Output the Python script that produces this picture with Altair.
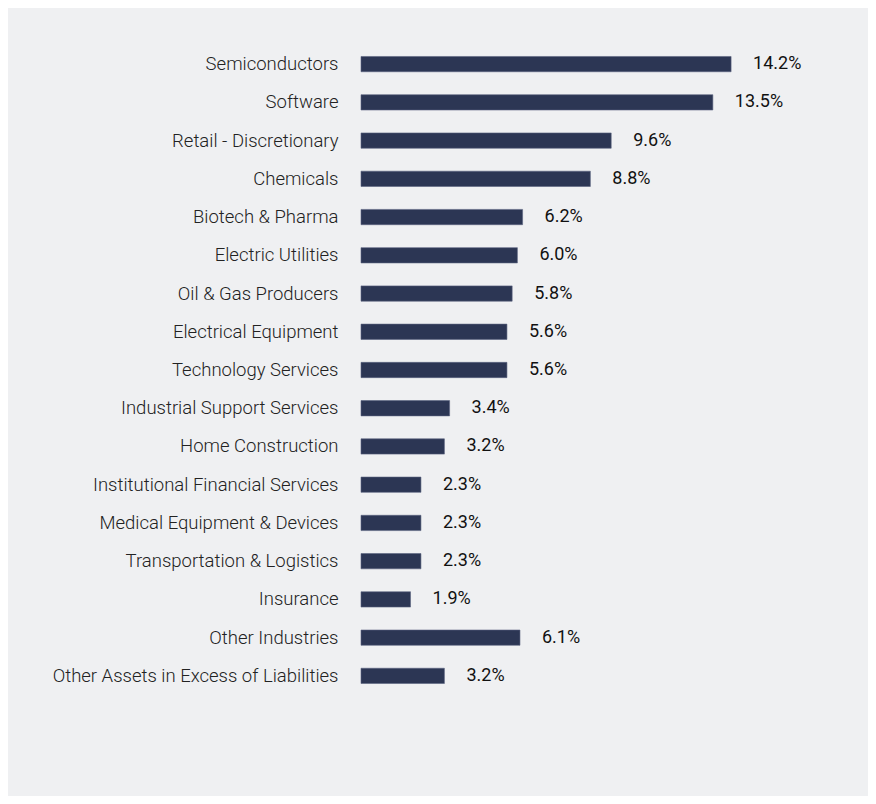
import altair as alt
import pandas as pd

categories = [
    "Semiconductors", "Software", "Retail - Discretionary", "Chemicals",
    "Biotech & Pharma", "Electric Utilities", "Oil & Gas Producers",
    "Electrical Equipment", "Technology Services", "Industrial Support Services",
    "Home Construction", "Institutional Financial Services",
    "Medical Equipment & Devices", "Transportation & Logistics", "Insurance",
    "Other Industries", "Other Assets in Excess of Liabilities",
]
values = [14.2, 13.5, 9.6, 8.8, 6.2, 6.0, 5.8, 5.6, 5.6, 3.4, 3.2, 2.3, 2.3, 2.3, 1.9, 6.1, 3.2]

df = pd.DataFrame({"category": categories, "value": values})
df["label"] = [f"{v:.1f}%" for v in values]

BG = "#eff0f2"
BAR = "#2c3654"

y = alt.Y(
    "category:N", sort=categories, title=None,
    scale=alt.Scale(paddingInner=0.6, paddingOuter=0.3),
    axis=alt.Axis(domain=False, ticks=False, labelPadding=23, labelFontSize=18.5,
                  labelFont="Roboto", labelFontWeight=300, labelColor="#222222",
                  labelLimit=400),
)
x = alt.X("value:Q", title=None, scale=alt.Scale(domain=[0, 16]), axis=None)

bars = alt.Chart(df).mark_bar(color=BAR, stroke="#5a6380", strokeWidth=0.6).encode(x=x, y=y)
text = alt.Chart(df).mark_text(align="left", baseline="middle", dx=22, fontSize=18,
                               font="Roboto", color="#111111").encode(x=x, y=y, text="label:N")

chart = (bars + text).properties(
    width=417, height=650,
    background=BG,
    padding={"left": 353, "top": 37, "right": 90, "bottom": 101},
    autosize=alt.AutoSizeParams(type="none"),
).configure_view(stroke=None)

chart.save("out.html", embed_options={"renderer": "svg", "actions": False})
